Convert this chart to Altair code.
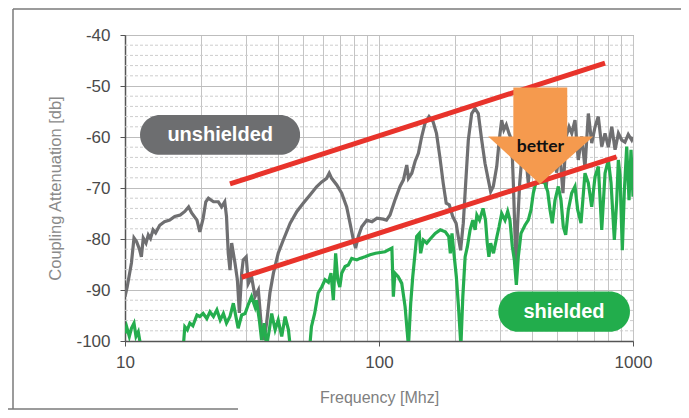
import altair as alt
import pandas as pd

# ---------------- data ----------------
gray_freq = [10.0, 10.2, 10.6, 10.85, 11.1, 11.4, 11.6, 11.8, 12.1, 12.35, 12.6, 12.9, 13.2, 13.7, 14.3,
             15.0, 15.7, 16.5, 17.2, 17.8, 18.3, 19.2, 19.7, 20.3, 20.8, 21.3, 22.3, 23.3, 24.0, 24.7,
             25.1, 25.5, 25.9, 26.3, 27.1, 27.7, 28.2, 28.8, 29.2, 30.0, 30.6, 31.5, 32.5, 33.5, 34.5,
             35.3, 36.1, 37.2, 38.4, 40.1, 42.0, 44.7, 47.5, 50.3, 53.4, 56.9, 59.5, 62.2, 63.7, 65.1,
             68.2, 71.3, 74.6, 76.9, 79.3, 80.9, 82.9, 85.5, 89.6, 93.8, 98.2, 103.9, 107, 110.5, 115.5,
             121, 124.8, 128.6, 130.6, 134.6, 138.7, 142.9, 147.3, 151.8, 157.4, 163.3, 168.4, 173.6, 179, 183.9,
             189.1, 195.1, 201.2, 205.1, 209.5, 214.7, 219.4, 224.7, 231.7, 238.8, 246, 253.7, 261.5, 269.4, 275.2,
             281.8, 290.7, 297.6, 304, 310, 317, 325, 333, 338, 343, 347, 351, 358, 365, 375,
             387, 400, 412, 425, 440, 455, 470, 485, 500, 515, 530, 545, 560, 574, 591,
             609, 628, 647, 667, 688, 709, 730, 753, 776, 800, 825, 850, 876, 903, 930,
             958, 988, 1000]
gray_db = [-91.3, -89.4, -84.7, -79.8, -80.5, -82.0, -83.5, -79.8, -80.8, -79.2, -79.9, -78.2, -78.8, -77.3, -76.6,
           -76.3, -75.6, -75.3, -74.6, -73.7, -74.9, -76.3, -78.6, -76.0, -72.7, -72.0, -72.7, -72.7, -73.7, -72.7,
           -75.6, -82.8, -86.1, -80.8, -84.7, -88.0, -94.5, -86.7, -84.1, -83.5, -88.7, -87.4, -91.3, -90.0, -97.8,
           -99.8, -96.5, -90.6, -86.7, -82.8, -80.2, -76.9, -74.6, -73.0, -71.4, -69.7, -68.8, -68.1, -67.1, -68.1,
           -69.4, -71.0, -73.7, -76.9, -80.2, -81.8, -79.5, -77.6, -76.3, -76.6, -75.9, -76.1, -76.3, -75.3, -72.4,
           -69.7, -68.4, -65.5, -68.1, -67.1, -64.8, -63.2, -59.9, -57.3, -56.0, -57.0, -59.3, -63.9, -69.1, -73.0,
           -73.3, -75.6, -76.9, -79.5, -82.2, -76.9, -69.1, -60.6, -55.4, -54.4, -55.4, -60.6, -65.2, -68.4, -70.7,
           -69.7, -65.8, -60.5, -56.7, -58.6, -57.6, -59.3, -60.6, -69.1, -78.9, -86.0, -77.6, -69.1, -64, -62,
           -69, -60, -58, -66, -61, -70, -62, -58, -67, -63, -71, -60, -58, -59.3, -56.7,
           -64.5, -59.9, -66, -55.4, -61.2, -58, -56, -61.9, -59.3, -62, -58, -62.5, -59.3, -60.6, -61,
           -59.5, -60.6, -60]

green_freq = [10.0, 10.15, 10.4, 10.6, 10.85, 11.05, 11.28, 11.53, 12.5, 16.5, 16.97, 17.2, 17.6, 18.0, 18.5,
              19.2, 19.7, 20.3, 21.0, 21.6, 22.3, 23.0, 23.7, 24.4, 25.1, 25.9, 26.7, 27.5, 27.9, 28.8,
              29.7, 30.6, 31.5, 32.5, 32.9, 33.8, 34.5, 35.3, 36.1, 37.0, 37.8, 39.0, 40.1, 41.4, 42.7,
              44.0, 44.7, 46.7, 52.5, 53.4, 54.2, 55.8, 57.6, 59.5, 61.3, 63.2, 64.7, 66.1, 67.5, 68.8,
              70.1, 71.3, 73.5, 75.7, 78.1, 81.8, 84.1, 88.1, 92.2, 96.9, 105.6, 112.4, 113.9, 115.5, 119.0,
              122.9, 126.7, 130.6, 133.3, 135.8, 140.7, 144.1, 145.9, 149.5, 154.2, 159, 166.4, 174.2, 182.4, 188.1,
              190.9, 193.8, 197.9, 201.6, 205.6, 210.1, 213.8, 218.3, 222.8, 228.4, 234.0, 239, 242.8, 248.8, 256.9,
              262.6, 266.8, 270.8, 275.2, 282.3, 291.3, 297, 304.1, 313.4, 321.1, 327.7, 334.9, 341.1, 347.3, 353.5,
              362.3, 375.6, 387, 396.6, 405.1, 414.0, 437.0, 450.3, 461.5, 471.4, 481.2, 493.1, 508.1, 520.6, 531.6,
              543.3, 556.3, 573.7, 591.1, 605.8, 624.2, 647.1, 666.8, 687.7, 708.7, 730.3, 753.2, 776.2, 799.7, 819.5,
              844.4, 862.9, 875.6, 888.9, 907.8, 924.3, 944.6, 964.6, 982.2, 1000]
green_db = [-98.5, -97.2, -99.1, -97.5, -96.5, -99.1, -98.2, -101, -103, -103, -101, -97.2, -97.8, -96.5, -97.0,
            -94.9, -95.2, -94.6, -95.6, -94.3, -95.2, -93.9, -95.9, -94.6, -96.5, -95.2, -92.6, -95.9, -97.5, -94.9,
            -94.6, -92.8, -91.3, -93.3, -92.0, -95.9, -99.8, -96.5, -101, -97.8, -94.6, -97.8, -95.9, -99.1, -95.2,
            -97.8, -101, -103, -103, -101, -97.2, -94.6, -90.6, -89.4, -88.0, -88.5, -86.7, -92.0, -82.8, -88.0,
            -89.4, -86.7, -85.4, -85.1, -83.8, -84.1, -83.8, -83.5, -83.1, -82.8, -82.5, -81.8, -91.3, -86.7, -87.4,
            -88.7, -93.3, -101, -92.6, -87.4, -79.5, -78.9, -82.8, -80.2, -80.8, -80.0, -78.9, -78.2, -78.6, -79.5,
            -82.8, -78.9, -83.5, -87.4, -93.3, -101, -91.3, -83.5, -81.5, -78.2, -76.3, -78.2, -75.3, -76.3, -74.0,
            -76.3, -80.8, -83.5, -80.8, -82.8, -79.5, -77.6, -75.0, -76.3, -74.6, -76.3, -81.5, -84.1, -89.0, -83.5,
            -78.9, -77.3, -76.3, -74.3, -71.0, -69.1, -68.8, -69.1, -70.7, -74.3, -76.9, -72.4, -69.7, -72.4, -77.6,
            -79.2, -74.3, -71.0, -69.7, -74.3, -76.9, -67.1, -69.0, -73.7, -67.8, -65.8, -78.2, -67.1, -64.5, -69.0,
            -80.2, -72.4, -64.5, -67.5, -82.2, -70.7, -61.9, -72.4, -62.5, -71.7]

red_names = ["upper", "upper", "lower", "lower"]
red_freq = [25.9, 776, 28.8, 862]
red_db = [-69.2, -45.5, -87.5, -63.9]

arrow_shaft_freq = [338, 551]
arrow_shaft_db = [-50.3, -60.2]
arrow_head_freq = [269, 430, 698]
arrow_head_top = [-59.9, -59.9, -59.9]
arrow_head_bottom = [-59.9, -69.2, -59.9]

label_names = ["unshielded", "shielded"]
label_f0 = [11.46, 294.9]
label_f1 = [48.9, 972.8]
label_db0 = [-55.7, -90.3]
label_db1 = [-63.5, -98.2]
label_fc = [23.7, 535]
label_dbc = [-59.7, -94.3]
label_colors = ["#6d6e70", "#22ad4c"]

x_grid = [10, 20, 30, 40, 50, 60, 70, 80, 90, 100, 200, 300, 400, 500, 600, 700, 800, 900, 1000]
y_major = [-100, -90, -80, -70, -60, -50, -40]
y_minor = [v for v in range(-98, -40, 2) if v % 10 != 0]

# ---------------- tables ----------------
gray_df = pd.DataFrame({"f": gray_freq, "db": gray_db})
green_df = pd.DataFrame({"f": green_freq, "db": green_db})
red_df = pd.DataFrame({"name": red_names, "f": red_freq, "db": red_db})
shaft_df = pd.DataFrame({"f0": [arrow_shaft_freq[0]], "f1": [arrow_shaft_freq[1]],
                         "d0": [arrow_shaft_db[0]], "d1": [arrow_shaft_db[1]]})
head_df = pd.DataFrame({"f": arrow_head_freq, "top": arrow_head_top, "bot": arrow_head_bottom})
lab_df = pd.DataFrame({"name": label_names, "f0": label_f0, "f1": label_f1, "d0": label_db0,
                       "d1": label_db1, "fc": label_fc, "dc": label_dbc, "col": label_colors})
minor_df = pd.DataFrame({"v": y_minor})
one = pd.DataFrame({"k": [0]})

xscale = alt.Scale(type="log", domain=[10, 1000], nice=False)
yscale = alt.Scale(domain=[-100, -40], nice=False)

major_x = "(datum.value==10||datum.value==100||datum.value==1000)"
x_axis = alt.Axis(
    values=x_grid, title="Frequency [Mhz]",
    labelExpr=major_x + " ? '' + datum.value : ''",
    labelFlush=False, labelOverlap=False,
    labelFontSize=17, labelColor="#4a4a4a", labelPadding=8,
    tickSize=5, tickOpacity={"condition": {"test": major_x, "value": 1}, "value": 0},
    grid=True, gridColor="#c4c4c4", gridWidth=1,
    titleFontSize=16, titleColor="#808080", titlePadding=19,
    domainColor="#555555", domainWidth=1.5,
)
y_axis = alt.Axis(
    values=y_major, title="Coupling Attenuation [db]",
    labelExpr="'' + datum.value",
    labelFlush=False, labelOverlap=False,
    labelFontSize=17, labelColor="#4a4a4a", labelPadding=10,
    tickSize=5,
    grid=True, gridColor="#bdbdbd", gridWidth=1,
    titleFontSize=16.5, titleColor="#8a8a8a", titlePadding=12,
    domainColor="#555555", domainWidth=1.5,
)

minor = alt.Chart(minor_df).mark_rule(color="#cdcdcd", strokeWidth=1, strokeDash=[3, 2]).encode(
    y=alt.Y("v:Q", scale=yscale, axis=y_axis)
)
gray = alt.Chart(gray_df).mark_line(color="#6f6f71", strokeWidth=3.2, clip=True).encode(
    x=alt.X("f:Q", scale=xscale, axis=x_axis),
    y=alt.Y("db:Q", scale=yscale),
    order="f:Q",
)
green = alt.Chart(green_df).mark_line(color="#25ad4e", strokeWidth=3.2, clip=True).encode(
    x=alt.X("f:Q", scale=xscale), y=alt.Y("db:Q", scale=yscale), order="f:Q"
)
red = alt.Chart(red_df).mark_line(color="#e8332b", strokeWidth=5).encode(
    x=alt.X("f:Q", scale=xscale), y=alt.Y("db:Q", scale=yscale), detail="name:N"
)
shaft = alt.Chart(shaft_df).mark_rect(color="#f59a4e").encode(
    x=alt.X("f0:Q", scale=xscale), x2="f1:Q", y=alt.Y("d0:Q", scale=yscale), y2="d1:Q"
)
head = alt.Chart(head_df).mark_area(color="#f59a4e", opacity=1, interpolate="linear").encode(
    x=alt.X("f:Q", scale=xscale), y=alt.Y("top:Q", scale=yscale, stack=None), y2="bot:Q"
)
better = alt.Chart(one).mark_text(text="better", font="Lato", fontWeight="bold", fontSize=17.5,
                                  color="#111111").encode(
    x=alt.datum(432, scale=xscale), y=alt.datum(-62.0, scale=yscale)
)
pills = alt.Chart(lab_df).mark_rect(cornerRadius=20).encode(
    x=alt.X("f0:Q", scale=xscale), x2="f1:Q", y=alt.Y("d0:Q", scale=yscale), y2="d1:Q",
    color=alt.Color("col:N", scale=None),
)
pill_text = alt.Chart(lab_df).mark_text(font="Liberation Sans", fontWeight="bold", fontSize=20,
                                        color="white").encode(
    x=alt.X("fc:Q", scale=xscale), y=alt.Y("dc:Q", scale=yscale), text="name:N"
)

frame_color = "#7a7a7a"
frame_left = alt.Chart(one).mark_rule(color=frame_color, strokeWidth=1.5).encode(
    x=alt.value(-112), y=alt.value(-26), y2=alt.value(374)
)
frame_top = alt.Chart(one).mark_rule(color=frame_color, strokeWidth=1.5).encode(
    x=alt.value(-112), x2=alt.value(556), y=alt.value(-26)
)
frame_bottom = alt.Chart(one).mark_rule(color=frame_color, strokeWidth=1.5).encode(
    x=alt.value(-117), x2=alt.value(113), y=alt.value(374)
)

chart = alt.layer(
    minor, gray, green, red, shaft, head, better, pills, pill_text, frame_left, frame_top, frame_bottom
).properties(
    width=508, height=306,
    padding={"left": 117, "top": 27, "right": 48, "bottom": 69},
    autosize=alt.AutoSizeParams(type="none"),
    background="white",
).configure_view(
    stroke="#8c8c8c", strokeWidth=1
).configure_axis(
    labelFont="Liberation Sans", titleFont="Liberation Sans", titleFontWeight="normal",
    tickColor="#555555",
)

chart.save("out.html", embed_options={"renderer": "svg", "actions": False})
